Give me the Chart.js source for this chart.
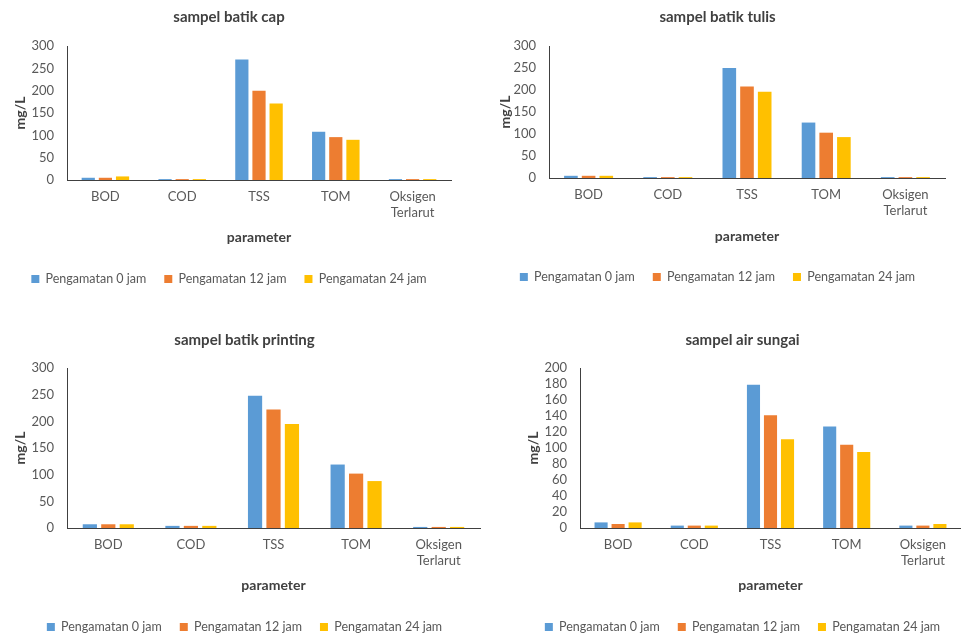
<!DOCTYPE html>
<html>
<head>
<meta charset="utf-8">
<script src="https://cdn.jsdelivr.net/npm/chart.js@4"></script>
<style>
  html, body { margin: 0; padding: 0; background: #fff; }
  body { width: 961px; height: 637px; position: relative; overflow: hidden; }
  canvas { position: absolute; }
</style>
</head>
<body>
<canvas id="cap"></canvas>
<canvas id="tulis"></canvas>
<canvas id="printing"></canvas>
<canvas id="sungai"></canvas>
<script>
// ===== Data =====
const categories = ['BOD', 'COD', 'TSS', 'TOM', ['Oksigen', 'Terlarut']];
const seriesNames = ['Pengamatan 0 jam', 'Pengamatan 12 jam', 'Pengamatan 24 jam'];

const cap0 = [5, 2, 270, 108, 2];
const cap12 = [5, 2, 200, 96, 2];
const cap24 = [8, 2, 171, 90, 2];

const tulis0 = [5, 2, 250, 126, 2];
const tulis12 = [5, 2, 208, 103, 2];
const tulis24 = [5, 2, 196, 93, 2];

const printing0 = [7, 4, 248, 119, 2];
const printing12 = [7, 4, 222, 102, 2];
const printing24 = [7, 4, 195, 88, 2];

const sungai0 = [7, 3, 179, 127, 3];
const sungai12 = [5, 3, 141, 104, 3];
const sungai24 = [7, 3, 111, 95, 5];

const colors = ['#5B9BD5', '#ED7D31', '#FFC000'];

Chart.defaults.font.family = 'Lato, "Open Sans", sans-serif';
Chart.defaults.color = '#595959';

// ===== Build one chart =====
function makeChart(id, title, series, yMax, step, g) {
  const cv = document.getElementById(id);
  cv.width = g.w; cv.height = g.h;
  cv.style.left = g.left + 'px';
  cv.style.top = g.top + 'px';
  cv.style.width = g.w + 'px';
  cv.style.height = g.h + 'px';

  return new Chart(cv, {
    type: 'bar',
    data: {
      labels: categories,
      datasets: series.map((d, i) => ({
        label: seriesNames[i],
        data: d,
        backgroundColor: colors[i],
        categoryPercentage: 0.67,
        barPercentage: 0.77
      }))
    },
    options: {
      responsive: false,
      animation: false,
      layout: { padding: { left: g.lpl, right: g.lpr, top: 0, bottom: g.lpb } },
      plugins: {
        title: {
          display: true, text: title, color: '#404040',
          font: { size: 15, weight: 'bold' },
          padding: { top: g.tpt, bottom: g.tpb }
        },
        legend: {
          position: 'bottom',
          labels: { boxWidth: 8, boxHeight: 8, padding: 18, font: { size: 12.5 }, color: '#595959' }
        },
        tooltip: { enabled: false }
      },
      scales: {
        x: {
          grid: { display: false, drawTicks: false },
          border: { display: true, color: '#404040', width: 1 },
          ticks: { padding: 9, font: { size: 13 }, color: '#595959' },
          title: { display: true, text: 'parameter', color: '#404040', font: { size: 14, weight: 'bold' }, padding: { top: 0, bottom: g.xpb } },
          afterFit: s => { s.height = g.xh; }
        },
        y: {
          min: 0, max: yMax,
          grid: { display: false, drawTicks: false },
          border: { display: true, color: '#404040', width: 1 },
          ticks: { stepSize: step, autoSkip: false, padding: 13, font: { size: 13 }, color: '#595959' },
          title: { display: true, text: 'mg/L', color: '#404040', font: { size: 14, weight: 'bold' }, padding: { top: g.ypt, bottom: 0 } },
          afterFit: s => { s.width = g.yw; }
        }
      }
    }
  });
}

makeChart('cap', 'sampel batik cap', [cap0, cap12, cap24], 300, 50,
  { left: 0, top: 0, w: 458, h: 300, lpl: 7, lpr: 7, lpb: 4.75, yw: 60, ypt: 4.6, tpt: 8, tpb: 20, xh: 74.75, xpb: 9.35 });

makeChart('tulis', 'sampel batik tulis', [tulis0, tulis12, tulis24], 300, 50,
  { left: 480, top: 0, w: 475, h: 300, lpl: 10, lpr: 10, lpb: 6.75, yw: 59, ypt: 6.6, tpt: 8, tpb: 20, xh: 74.75, xpb: 8.35 });

makeChart('printing', 'sampel batik printing', [printing0, printing12, printing24], 300, 50,
  { left: 0, top: 320, w: 490, h: 324, lpl: 9, lpr: 10, lpb: 0.75, yw: 58, ypt: 3, tpt: 11, tpb: 19, xh: 74.75, xpb: 9.35 });

makeChart('sungai', 'sampel air sungai', [sungai0, sungai12, sungai24], 200, 20,
  { left: 480, top: 320, w: 491, h: 324, lpl: 44, lpr: 10, lpb: 0.75, yw: 56, ypt: 1, tpt: 11, tpb: 19, xh: 74.75, xpb: 9.35 });
</script>
</body>
</html>
